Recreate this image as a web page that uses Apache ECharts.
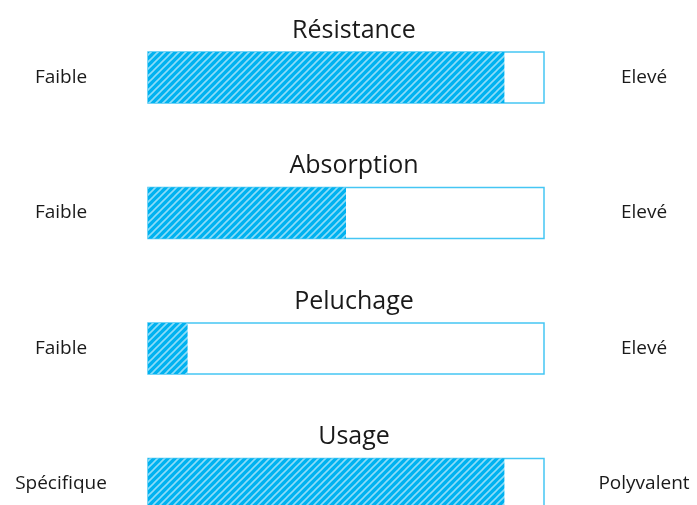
<!DOCTYPE html>
<html>
<head>
<meta charset="utf-8">
<script src="https://cdn.jsdelivr.net/npm/echarts@6/dist/echarts.min.js"></script>
<style>
  html, body { margin: 0; padding: 0; background: #fff; }
  #chart { width: 697px; height: 505px; }
</style>
</head>
<body>
<div id="chart"></div>
<script>
// fiche produit - 4 jauges
const titles = ['Résistance', 'Absorption', 'Peluchage', 'Usage']
const lowLabels = ['Faible', 'Faible', 'Faible', 'Spécifique']
const highLabels = ['Elevé', 'Elevé', 'Elevé', 'Polyvalent']
const values = [9, 5, 1, 9]
const maxValue = 10

const blue = '#00b2f0'
const rowStep = 135.5
const textFont = '"Open Sans", sans-serif'

// hachures diagonales
function stripePattern() {
  const c = document.createElement('canvas')
  c.width = 7
  c.height = 7
  const ctx = c.getContext('2d')
  ctx.fillStyle = blue
  ctx.fillRect(0, 0, 7, 7)
  ctx.strokeStyle = 'rgba(255,255,255,0.55)'
  ctx.lineWidth = 1.6
  ctx.beginPath()
  ctx.moveTo(-1, 8); ctx.lineTo(8, -1)
  ctx.moveTo(-1, 1); ctx.lineTo(1, -1)
  ctx.moveTo(6, 8); ctx.lineTo(8, 6)
  ctx.stroke()
  return c
}

const chart = echarts.init(document.getElementById('chart'))
const pattern = stripePattern()

const grid = [], xAxis = [], yAxis = [], series = [], title = []
titles.forEach((t, i) => {
  grid.push({ left: 148, width: 396, top: 52 + rowStep * i, height: 51, outerBoundsMode: 'none', containLabel: false })
  title.push({
    text: t,
    left: 349,
    textAlign: 'center',
    top: 29 + rowStep * i - 16,
    textStyle: { fontFamily: textFont, fontSize: 25, fontWeight: 'normal', color: '#1a1a1a' }
  })
  xAxis.push({ gridIndex: i, type: 'value', min: 0, max: maxValue, show: false })
  yAxis.push({
    gridIndex: i, type: 'category', data: [lowLabels[i]], position: 'left',
    axisLine: { show: false }, axisTick: { show: false },
    axisLabel: { align: 'center', margin: 87, fontFamily: textFont, fontSize: 19, color: '#1a1a1a' }
  })
  yAxis.push({
    gridIndex: i, type: 'category', data: [highLabels[i]], position: 'right',
    axisLine: { show: false }, axisTick: { show: false },
    axisLabel: { align: 'center', margin: 100, fontFamily: textFont, fontSize: 19, color: '#1a1a1a' }
  })
  series.push({
    type: 'bar',
    xAxisIndex: i,
    yAxisIndex: i * 2,
    data: [values[i]],
    barWidth: '100%',
    showBackground: true,
    backgroundStyle: { color: '#fff', borderColor: '#45c6f4', borderWidth: 1.5 },
    itemStyle: { color: { image: pattern, repeat: 'repeat' } },
    silent: true,
    animation: false
  })
})

chart.setOption({ animation: false, title, grid, xAxis, yAxis, series })
</script>
</body>
</html>
